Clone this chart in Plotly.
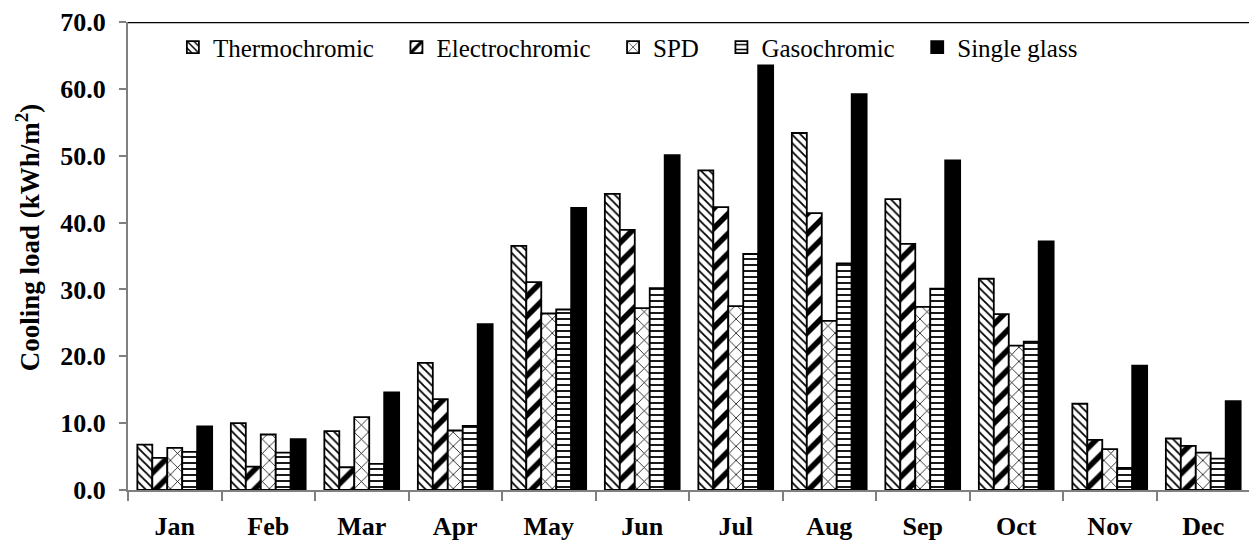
import plotly.graph_objects as go

months = ["Jan", "Feb", "Mar", "Apr", "May", "Jun", "Jul", "Aug", "Sep", "Oct", "Nov", "Dec"]
thermochromic = [6.8, 10.0, 8.8, 19.0, 36.5, 44.3, 47.8, 53.4, 43.5, 31.6, 12.9, 7.7]
electrochromic = [4.8, 3.5, 3.4, 13.6, 31.1, 38.9, 42.3, 41.4, 36.8, 26.3, 7.5, 6.6]
spd = [6.3, 8.3, 10.9, 8.9, 26.4, 27.2, 27.5, 25.3, 27.4, 21.6, 6.1, 5.6]
gasochromic = [5.7, 5.6, 3.9, 9.6, 27.0, 30.2, 35.3, 33.9, 30.1, 22.2, 3.3, 4.7]
single_glass = [9.5, 7.6, 14.6, 24.8, 42.2, 50.1, 63.5, 59.2, 49.3, 37.2, 18.6, 13.3]

series = [
    ("Thermochromic", thermochromic, dict(shape="\\", size=6, solidity=0.3)),
    ("Electrochromic", electrochromic, dict(shape="/", size=14, solidity=0.4)),
    ("SPD", spd, dict(shape="x", size=10, solidity=0.15)),
    ("Gasochromic", gasochromic, dict(shape="-", size=6, solidity=0.3)),
]

FONT = "Liberation Serif"
PAD = "\u00a0\u00a0\u2009"  # extra legend spacing after each entry

fig = go.Figure()
for name, vals, pat in series:
    fig.add_trace(go.Bar(
        x=months, y=vals, name=name + PAD,
        marker=dict(color="white", line=dict(color="black", width=1.8),
                    pattern=dict(fgcolor="black", bgcolor="white", fgopacity=1,
                                 fillmode="overlay", **pat)),
    ))
fig.add_trace(go.Bar(
    x=months, y=single_glass, name="Single glass",
    marker=dict(color="black", line=dict(color="black", width=1.8)),
))

# page body has an 8px margin; compensate so the plot lands where the reference has it
fig.update_layout(
    width=1249, height=539,
    barmode="group", bargap=0.2, bargroupgap=0,
    plot_bgcolor="white", paper_bgcolor="white",
    margin=dict(l=120, r=7, t=14, b=57),
    font=dict(family=FONT, color="black", size=24),
    showlegend=True,
    legend=dict(orientation="h", x=0.04, y=0.995, xanchor="left", yanchor="top",
                font=dict(size=25, family=FONT, color="black"),
                bgcolor="rgba(0,0,0,0)", itemwidth=30, traceorder="normal"),
    xaxis=dict(showline=True, linecolor="#808080", linewidth=2,
               ticks="outside", ticklen=9, tickcolor="#808080", tickwidth=2,
               tickson="boundaries", automargin=False, ticklabelstandoff=12,
               tickfont=dict(size=26, family=FONT, weight="bold", color="black"),
               showgrid=False),
    yaxis=dict(range=[0, 70], dtick=10, tickformat=".1f",
               showline=True, linecolor="#808080", linewidth=2,
               ticks="outside", ticklen=7, tickcolor="#808080", tickwidth=2,
               automargin=False, ticklabelstandoff=8,
               tickfont=dict(size=26, family=FONT, weight="bold", color="black"),
               showgrid=False, zeroline=False),
)
fig.add_annotation(text="Cooling load (kWh/m<sup>2</sup>)", textangle=-90,
                   xref="paper", yref="paper", x=0, y=0.54, xanchor="center", yanchor="middle",
                   xshift=-100, showarrow=False,
                   font=dict(size=27, family=FONT, weight="bold", color="black"))
fig.add_shape(type="line", xref="paper", yref="y", x0=0, x1=1.01, y0=70, y1=70,
              line=dict(color="black", width=2.5))

fig.write_html("out.html")
